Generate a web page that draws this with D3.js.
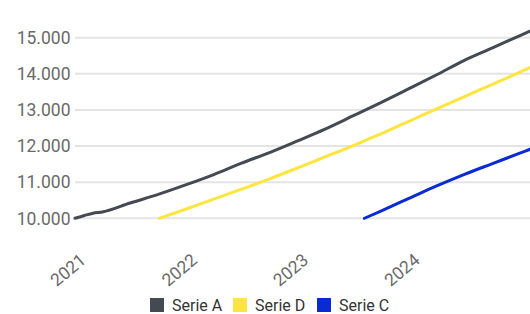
<!DOCTYPE html>
<html>
<head>
<meta charset="utf-8">
<script src="https://cdn.jsdelivr.net/npm/d3@7"></script>
<style>
  html, body { margin: 0; padding: 0; background: #fff; }
  svg { display: block; font-family: Roboto, "Noto Sans", sans-serif; }
</style>
</head>
<body>
<svg id="chart" width="530" height="314"></svg>
<script>
// ---- data ----
const seriesNames = ["Serie A", "Serie D", "Serie C"];
const seriesColors = ["#434a52", "#fde53e", "#0a2ad2"];

const datesA = ["2021-01-01","2021-02-01","2021-03-01","2021-04-01","2021-07-01","2021-10-01",
  "2022-01-01","2022-04-01","2022-07-01","2022-10-01","2023-01-01","2023-04-01","2023-07-01","2023-10-01",
  "2024-01-01","2024-04-01","2024-07-01","2024-10-01","2025-01-01","2025-02-01"];
const valuesA = [10000,10078,10141,10174,10424,10662,
  10930,11210,11526,11819,12143,12470,12833,13204,
  13589,13974,14372,14718,15067,15184];

const datesD = ["2021-10-05","2022-01-01","2022-04-01","2022-07-01","2022-10-01","2023-01-01","2023-04-01",
  "2023-07-01","2023-10-01","2024-01-01","2024-04-01","2024-07-01","2024-10-01","2025-01-01","2025-02-01"];
const valuesD = [10000,10258,10532,10806,11091,11396,11700,
  12005,12340,12686,13029,13370,13710,14054,14170];

const datesC = ["2023-08-08","2023-10-01","2024-01-01","2024-04-01","2024-07-01","2024-10-01","2025-01-01","2025-02-01"];
const valuesC = [10000,10202,10551,10897,11218,11515,11811,11911];

const yTicks = [10000, 11000, 12000, 13000, 14000, 15000];
const xTickLabels = ["2021", "2022", "2023", "2024"];

// ---- build ----
const parse = d3.timeParse("%Y-%m-%d");
const series = [
  { name: "Serie A", color: seriesColors[0], pts: datesA.map((d, i) => ({ d: parse(d), v: valuesA[i] })) },
  { name: "Serie D", color: seriesColors[1], pts: datesD.map((d, i) => ({ d: parse(d), v: valuesD[i] })) },
  { name: "Serie C", color: seriesColors[2], pts: datesC.map((d, i) => ({ d: parse(d), v: valuesC[i] })) }
];

const svg = d3.select("#chart");
const left = 75, right = 530;

const x = d3.scaleTime()
  .domain([parse("2021-01-01"), parse("2025-02-01")])
  .range([left, right]);
const y = d3.scaleLinear()
  .domain([10000, 15000])
  .range([218.3, 37.7]);

const fmt = v => d3.format(",")(v).replace(/,/g, ".");

// grid + y labels
const gy = svg.append("g");
gy.selectAll("line").data(yTicks).join("line")
  .attr("x1", left).attr("x2", right)
  .attr("y1", d => y(d)).attr("y2", d => y(d))
  .attr("stroke", "#e4e4e4").attr("stroke-width", 2);
gy.selectAll("text").data(yTicks).join("text")
  .attr("x", 70.5).attr("y", d => y(d))
  .attr("dy", "0.36em")
  .attr("text-anchor", "end")
  .attr("fill", "#6a6a6a")
  .attr("font-size", 17.5)
  .text(fmt);

// x labels
const gx = svg.append("g");
gx.selectAll("text").data(xTickLabels).join("text")
  .attr("transform", d => `translate(${x(parse(d + "-01-01")) + 12},262) rotate(-40)`)
  .attr("text-anchor", "end")
  .attr("fill", "#6a6a6a")
  .attr("font-size", 17.5)
  .text(d => d);

// lines
const line = d3.line().x(p => x(p.d)).y(p => y(p.v)).curve(d3.curveMonotoneX);
svg.append("g").selectAll("path").data(series).join("path")
  .attr("d", s => line(s.pts))
  .attr("fill", "none")
  .attr("stroke", s => s.color)
  .attr("stroke-width", 3)
  .attr("stroke-linejoin", "round")
  .attr("stroke-linecap", "round");

// legend
const legendX = [150, 233, 317];
const lg = svg.append("g");
const items = lg.selectAll("g").data(seriesNames).join("g")
  .attr("transform", (d, i) => `translate(${legendX[i]},298)`);
items.append("rect").attr("width", 14).attr("height", 14)
  .attr("fill", (d, i) => seriesColors[i]);
items.append("text").attr("x", 22).attr("y", 7).attr("dy", "0.36em")
  .attr("font-size", 16).attr("fill", "#333")
  .text(d => d);
</script>
</body>
</html>
